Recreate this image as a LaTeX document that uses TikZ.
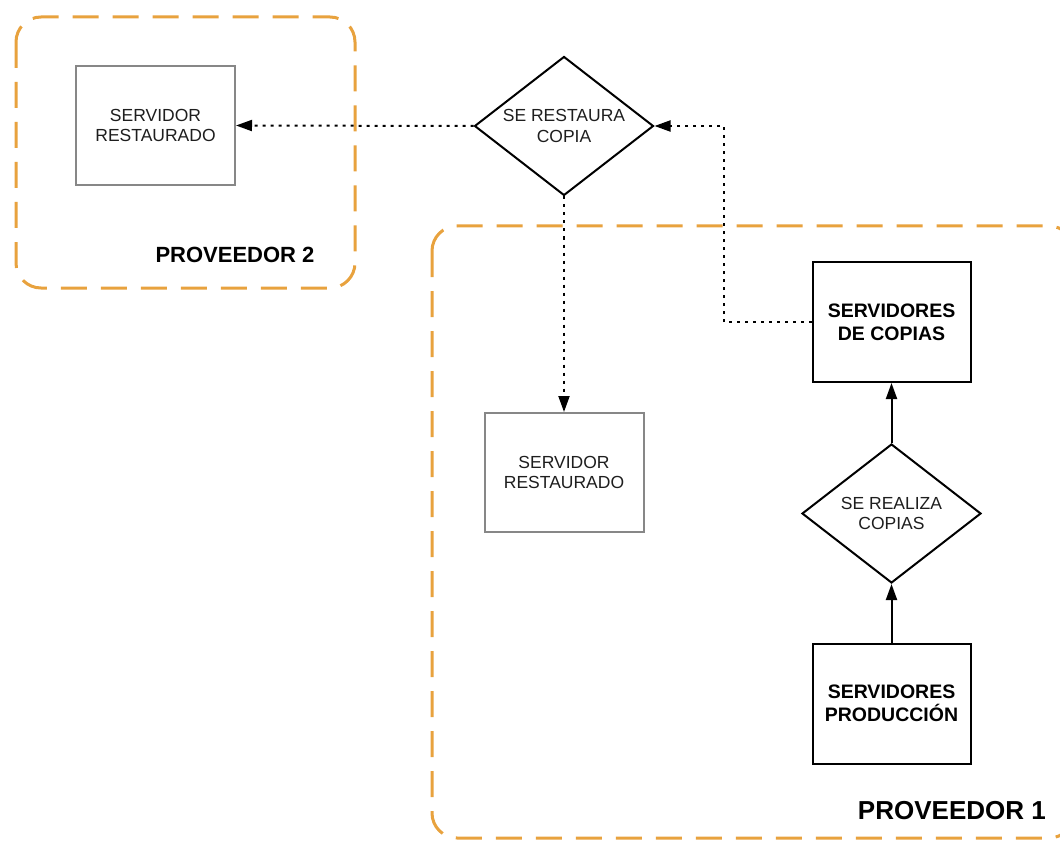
\documentclass[tikz,border=0pt]{standalone}
\usepackage{fontspec}
\setmainfont{Liberation Sans}
\usetikzlibrary{shapes.geometric,arrows.meta}
\definecolor{provorange}{RGB}{232,162,62}
\definecolor{boxgray}{RGB}{135,135,135}
\definecolor{txtgray}{RGB}{30,30,30}
\tikzset{
  provbox/.style={draw=provorange, line width=3pt, dash pattern=on 26pt off 14pt, rounded corners=25pt},
  graybox/.style={draw=boxgray, line width=2pt, fill=white, minimum width=159pt, minimum height=119pt, inner sep=0pt, align=center, text=txtgray, font=\fontsize{17.5}{20.5}\selectfont},
  blackbox/.style={draw=black, line width=2pt, fill=white, minimum width=158pt, minimum height=120pt, inner sep=0pt, align=center, font=\fontsize{19.5}{23}\selectfont\bfseries},
  decision/.style={draw=black, line width=2pt, diamond, aspect=1.29, minimum width=179pt, minimum height=139pt, inner sep=0pt, align=center, text=txtgray, font=\fontsize{17.5}{20.5}\selectfont},
  tipstyle/.style={-{Triangle[length=16pt,width=11pt]}},
  dotarrow/.style={draw=black, line width=2pt, dash pattern=on 3pt off 5pt, tipstyle},
  dotline/.style={draw=black, line width=2pt, dash pattern=on 3pt off 5pt},
  solidarrow/.style={draw=black, line width=2pt, tipstyle},
  provlabel/.style={font=\bfseries, inner sep=0pt}
}
\begin{document}
\begin{tikzpicture}[x=1pt,y=-1pt]
\useasboundingbox (0,0) rectangle (1060,845);
\begin{scope}
\clip (0,0) rectangle (1060,845);
\draw[provbox] (16,17) rectangle (355,288);
\draw[provbox] (432,226) rectangle (1074,838);
\end{scope}
\node[provlabel, font=\fontsize{22}{26}\selectfont\bfseries] (p2) at (235,255) {PROVEEDOR 2};
\node[provlabel, font=\fontsize{26}{30}\selectfont\bfseries, anchor=east] (p1) at (1046,811) {PROVEEDOR 1};

\node[graybox] (s2) at (155.5,125.5) {SERVIDOR\\RESTAURADO};
\node[decision] (d1) at (564,126) {SE RESTAURA\\COPIA};
\node[graybox] (s1) at (564,472.5) {SERVIDOR\\RESTAURADO};
\node[blackbox] (cop) at (891.5,322) {SERVIDORES\\DE COPIAS};
\node[decision] (d2) at (891.5,513.5) {SE REALIZA\\COPIAS};
\node[blackbox] (prod) at (891.5,703.5) {SERVIDORES\\PRODUCCIÓN};
\coordinate (bend) at (724,322);

\draw[dotarrow] (d1.west) -- (s2.east);
\draw[dotarrow] (d1.south) -- (s1.north);
\draw[dotline] (cop.west) -- (bend);
\draw[dotarrow] (bend) |- (d1.east);
\draw[solidarrow] (d2.north) -- (cop.south);
\draw[solidarrow] (prod.north) -- (d2.south);
\end{tikzpicture}
\end{document}
